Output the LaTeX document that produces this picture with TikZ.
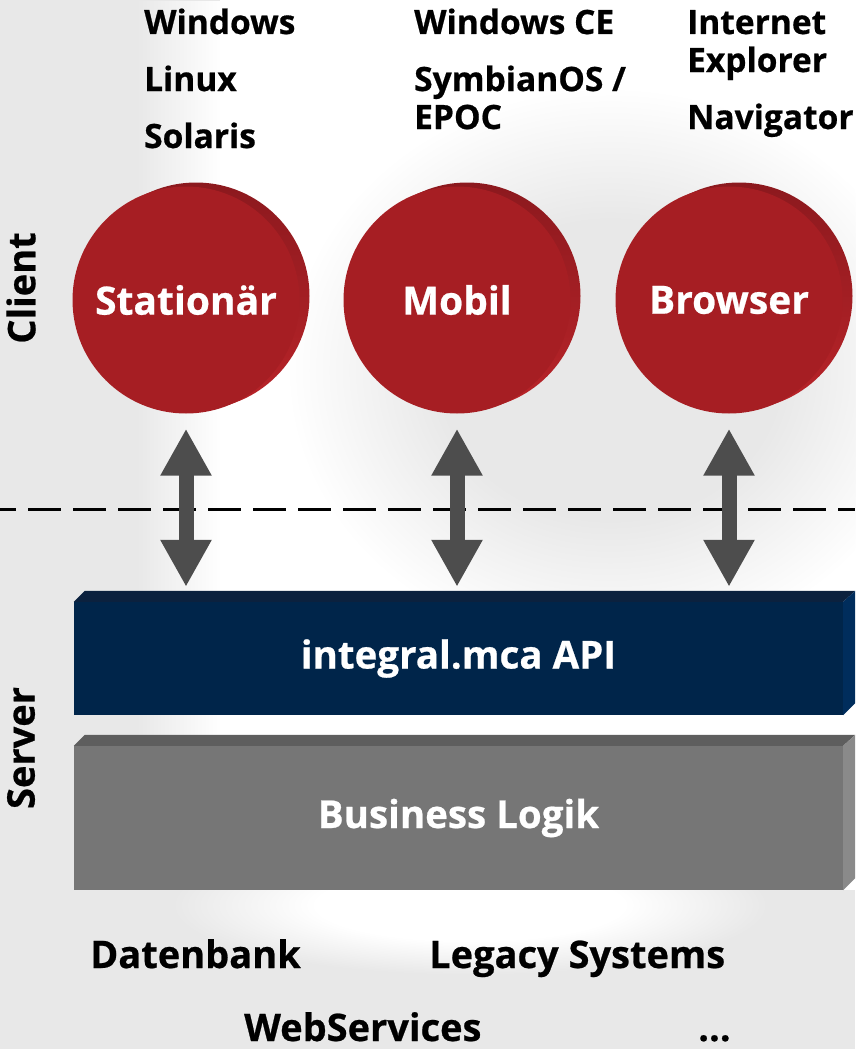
\documentclass[tikz,border=0pt]{standalone}
\usepackage{fontspec}
\setmainfont{Open Sans}[BoldFeatures={FakeBold=0.6}]
\usetikzlibrary{arrows.meta,fadings,calc}

\definecolor{bgray}{HTML}{E8E8E8}
\definecolor{redf}{HTML}{A61E23}
\definecolor{rimtop}{HTML}{8C191E}
\definecolor{rimbot}{HTML}{B92429}
\definecolor{bluef}{HTML}{00254A}
\definecolor{bluet}{HTML}{0B213E}
\definecolor{blues}{HTML}{002D5C}
\definecolor{grayf}{HTML}{767676}
\definecolor{grayt}{HTML}{5E5E5E}
\definecolor{grays}{HTML}{8A8A8A}
\definecolor{arrowc}{HTML}{4D4D4D}

% soft-edged radial fading: opaque core, smooth falloff to the rim
\pgfdeclareradialshading{softedgeshade}{\pgfpointorigin}{color(0bp)=(pgftransparent!0); color(13bp)=(pgftransparent!0); color(25bp)=(pgftransparent!100); color(50bp)=(pgftransparent!100)}
\pgfdeclarefading{softedge}{\pgfuseshading{softedgeshade}}
\tikzfading[name=fadein right, left color=transparent!100, right color=transparent!0]

\pgfdeclarelayer{back}
\pgfsetlayers{back,main}

\tikzset{
  lbl/.style={font=\fontsize{33.5}{38}\selectfont\bfseries, text=black, inner sep=0pt, anchor=base west},
  blbl/.style={font=\fontsize{38}{44}\selectfont\bfseries, text=black, inner sep=0pt, anchor=base west},
  side/.style={font=\fontsize{38}{44}\selectfont\bfseries, text=black, inner sep=0pt, rotate=90},
  disc/.style={circle, fill=redf, minimum size=227pt, inner sep=0pt, text=white,
    font=\fontsize{39}{44}\selectfont\bfseries},
  bar/.style={rectangle, inner sep=0pt, minimum width=769pt, text=white,
    font=\fontsize{38.5}{44}\selectfont\bfseries},
  fatarrow/.style={draw=arrowc, line width=15pt,
    {Triangle[width=48pt,length=47pt]}-{Triangle[width=48pt,length=47pt]}},
  divider/.style={draw=black, line width=3pt, dash pattern=on 33pt off 12pt, dash phase=17pt},
}

\begin{document}
\begin{tikzpicture}[x=1pt, y=-1pt]
\useasboundingbox (0,0) rectangle (855,1049);

% client discs
\node[disc] (stat) at (186,300) {Stationär};
\node[disc] (mob)  at (457,300) {Mobil};
\node[disc] (brow) at (729,300) {Browser};

% server layers (front faces)
\node[bar, fill=bluef, minimum height=113pt] (api) at (458.5,658.5) {integral.mca API};
\node[bar, fill=grayf, minimum height=144pt] (biz) at (458.5,818) {Business Logik};

% bevelled top and side faces of the layers
\foreach \b/\t/\s in {api/bluet/blues, biz/grayt/grays}{
  \fill[\t] (\b.north west) -- ([shift={(11,-11)}]\b.north west)
     -- ([shift={(12,-11)}]\b.north east) -- (\b.north east) -- cycle;
  \fill[\s] (\b.north east) -- ([shift={(12,-11)}]\b.north east)
     -- ([shift={(12,-12)}]\b.south east) -- (\b.south east) -- cycle;
}

% client/server divider
\coordinate (dl) at (0,509);
\coordinate (dr) at (855,509);
\path[divider] (dl) -- (dr);

% connections between clients and the API
\foreach \c in {stat, mob, brow}{
  \path[fatarrow] ([yshift=-15pt]\c.south) -- ([yshift=15pt]\c.south |- api.north);
}

% platform lists
\node[lbl] (w1) at (144,34) {Windows};
\node[lbl] (w2) at (144,91) {Linux};
\node[lbl] (w3) at (144,148) {Solaris};
\node[lbl] (m1) at (414,34) {Windows CE};
\node[lbl] (m2) at (414,91) {SymbianOS /};
\node[lbl] (m3) at (414,129) {EPOC};
\node[lbl] (b1) at (687,34) {Internet};
\node[lbl] (b2) at (687,72) {Explorer};
\node[lbl] (b3) at (687,129) {Navigator};

% back-end systems
\node[blbl] (d1) at (90,968) {Datenbank};
\node[blbl] (d2) at (429,968) {Legacy Systems};
\node[blbl] (d3) at (244,1041) {WebServices};
\node[blbl] (d4) at (698,1041) {...};

% tier labels
\node[side] (cl) at (21,288) {Client};
\node[side] (sv) at (21,748) {Server};

\begin{pgfonlayer}{back}
  % backdrop with soft light and shadow areas
  \fill[bgray] (0,0) rectangle (855,1049);
  \fill[white] (220,0) rectangle (855,890);
  \fill[white, path fading=fadein right] (135,0) rectangle (220,890);
  \fill[white, path fading=softedge] (470,905) ellipse [x radius=300, y radius=70];
  \fill[bgray, path fading=softedge] (610,370) ellipse [x radius=320, y radius=280];
  % rear rims of the discs
  \foreach \c in {stat, mob, brow}{
    \shade[top color=rimtop, bottom color=rimbot] ($(\c.center)+(10,-4)$) circle (113.5);
  }
\end{pgfonlayer}
\end{tikzpicture}
\end{document}
